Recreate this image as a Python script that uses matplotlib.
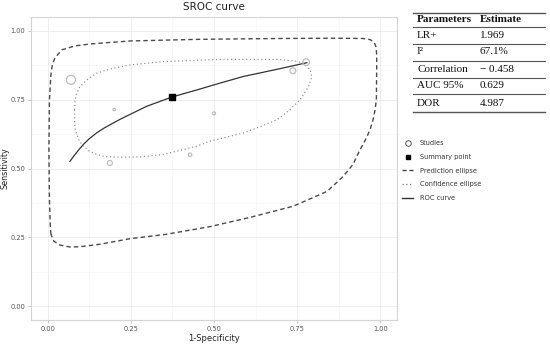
import matplotlib.pyplot as plt
from matplotlib.lines import Line2D
import numpy as np

# study estimates (1-specificity, sensitivity) and relative weights
study_fpr = [0.07, 0.20, 0.50, 0.737, 0.777, 0.187, 0.428]
study_sens = [0.822, 0.714, 0.70, 0.855, 0.886, 0.52, 0.55]
study_weight = [9.0, 2.5, 3.0, 6.0, 6.7, 5.0, 3.5]

summary_fpr = 0.374
summary_sens = 0.76

# SROC curve
roc_fpr = [0.067, 0.076, 0.085, 0.095, 0.107, 0.125, 0.147, 0.170, 0.197, 0.220, 0.247,
           0.298, 0.375, 0.448, 0.518, 0.588, 0.689, 0.779]
roc_sens = [0.526, 0.541, 0.555, 0.570, 0.587, 0.608, 0.629, 0.647, 0.665, 0.680, 0.696,
            0.726, 0.760, 0.785, 0.810, 0.834, 0.860, 0.884]

# 95% prediction region
pred_fpr = [0.010, 0.0084, 0.0054, 0.0039, 0.0054, 0.0099, 0.014, 0.022, 0.043, 0.082, 0.127,
            0.247, 0.458, 0.698, 0.858, 0.948, 0.969, 0.981, 0.987, 0.989, 0.989,
            0.988, 0.984, 0.978, 0.970, 0.960, 0.950, 0.939, 0.918, 0.888, 0.840, 0.738, 0.610, 0.488,
            0.356, 0.247, 0.157, 0.097, 0.067, 0.037, 0.019, 0.010]
pred_sens = [0.261, 0.279, 0.388, 0.569, 0.750, 0.841, 0.875, 0.902, 0.931, 0.945, 0.952,
             0.963, 0.969, 0.972, 0.973, 0.972, 0.968, 0.959, 0.941, 0.912, 0.869,
             0.750, 0.712, 0.677, 0.645, 0.616, 0.592, 0.569, 0.515, 0.471, 0.417, 0.363, 0.323, 0.289,
             0.261, 0.245, 0.225, 0.216, 0.215, 0.222, 0.236, 0.261]

# 95% confidence region
conf_fpr = [0.081, 0.082, 0.085, 0.097, 0.121, 0.147, 0.187, 0.247, 0.347, 0.518, 0.689,
            0.744, 0.768, 0.789, 0.794, 0.784, 0.759, 0.728, 0.689, 0.639, 0.588,
            0.488, 0.448, 0.348, 0.278, 0.227, 0.172, 0.147, 0.125, 0.107, 0.095, 0.088, 0.083,
            0.081, 0.081]
conf_sens = [0.713, 0.740, 0.767, 0.797, 0.825, 0.846, 0.861, 0.876, 0.888, 0.896, 0.896,
             0.890, 0.882, 0.858, 0.833, 0.797, 0.750, 0.713, 0.677, 0.652, 0.629,
             0.599, 0.581, 0.551, 0.542, 0.541, 0.543, 0.551, 0.563, 0.581, 0.600, 0.623, 0.645,
             0.666, 0.713]

ticks = [0.0, 0.25, 0.5, 0.75, 1.0]
tick_labels = ["0.00", "0.25", "0.50", "0.75", "1.00"]

legend_labels = ["Studies", "Summary point", "Prediction ellipse", "Confidence ellipse", "ROC curve"]

table_params = ["LR+", "I²", "Correlation", "AUC 95%", "DOR"]
table_est = ["1.969", "67.1%", "\u2212 0.458", "0.629", "4.987"]

fig = plt.figure(figsize=(5.5, 3.44), dpi=100)
ax = fig.add_axes([31 / 550, 1 - 320 / 344, 366 / 550, 303 / 344])

ax.set_xlim(-0.05, 1.05)
ax.set_ylim(-0.05, 1.05)
ax.set_xticks(ticks)
ax.set_xticklabels(tick_labels)
ax.set_yticks(ticks)
ax.set_yticklabels(tick_labels)
ax.set_xticks(np.arange(0.125, 1.0, 0.25), minor=True)
ax.set_yticks(np.arange(0.125, 1.0, 0.25), minor=True)
ax.grid(which="major", color="#ebebeb", lw=0.6)
ax.grid(which="minor", color="#f4f4f4", lw=0.4)
ax.set_axisbelow(True)
for s in ax.spines.values():
    s.set_color("#d4d4d4")
    s.set_linewidth(0.8)
ax.tick_params(which="major", length=2, width=0.5, color="#b0b0b0", labelsize=4.8,
               labelcolor="#555555", pad=2)
ax.tick_params(which="minor", length=0)

ax.plot(pred_fpr, pred_sens, ls=(0, (3.2, 2.2)), color="#4a4a4a", lw=1.0)
ax.plot(conf_fpr, conf_sens, ls=(0, (1, 2.2)), color="#8a8a8a", lw=0.85)
ax.plot(roc_fpr, roc_sens, color="#333333", lw=0.9)
ax.scatter(study_fpr, study_sens, s=[(w * 0.72) ** 2 for w in study_weight],
           facecolors="none", edgecolors="#bdbdbd", linewidths=0.9, zorder=3)
ax.scatter([summary_fpr], [summary_sens], marker="s", s=14, color="black", zorder=4)

ax.set_title("SROC curve", fontsize=7.5, color="#222222", pad=5)
ax.set_xlabel("1-Specificity", fontsize=6, color="#222222", labelpad=2)
ax.set_ylabel("Sensitivity", fontsize=5.8, color="#222222", labelpad=1)

handles = [
    Line2D([], [], ls="none", marker="o", mfc="none", mec="#555555", ms=4, mew=0.7),
    Line2D([], [], ls="none", marker="s", color="black", ms=3.5),
    Line2D([], [], ls=(0, (3, 2)), color="#444444", lw=1),
    Line2D([], [], ls=(0, (1, 2)), color="#777777", lw=0.9),
    Line2D([], [], color="#333333", lw=1),
]
fig.legend(handles=handles, labels=legend_labels, loc="upper left",
           bbox_to_anchor=(399 / 550, 1 - 137 / 344), frameon=False, fontsize=4.8,
           handlelength=1.6, handletextpad=1.0, labelspacing=1.15, borderpad=0,
           labelcolor="#333333")

# parameter table
tx0, tx1 = 413 / 550, 545 / 550
rules = [12.5, 27, 43.5, 60.5, 77.5, 94.5, 111.5]
for i, r in enumerate(rules):
    fig.add_artist(Line2D([tx0, tx1], [1 - r / 344] * 2, color="#555555",
                          lw=1.0 if i in (0, len(rules) - 1) else 0.8))
tfont = dict(family="Liberation Serif", fontsize=8, color="#111111", va="center")
fig.text(417 / 550, 1 - 20 / 344, "Parameters", fontweight="bold", **tfont)
fig.text(480 / 550, 1 - 20 / 344, "Estimate", fontweight="bold", **tfont)
for i, (p, e) in enumerate(zip(table_params, table_est)):
    y = (rules[i + 1] + rules[i + 2]) / 2
    fig.text(417 / 550, 1 - y / 344, p, **tfont)
    fig.text(480 / 550, 1 - y / 344, e, **tfont)

fig.savefig("out.png", dpi=100)
